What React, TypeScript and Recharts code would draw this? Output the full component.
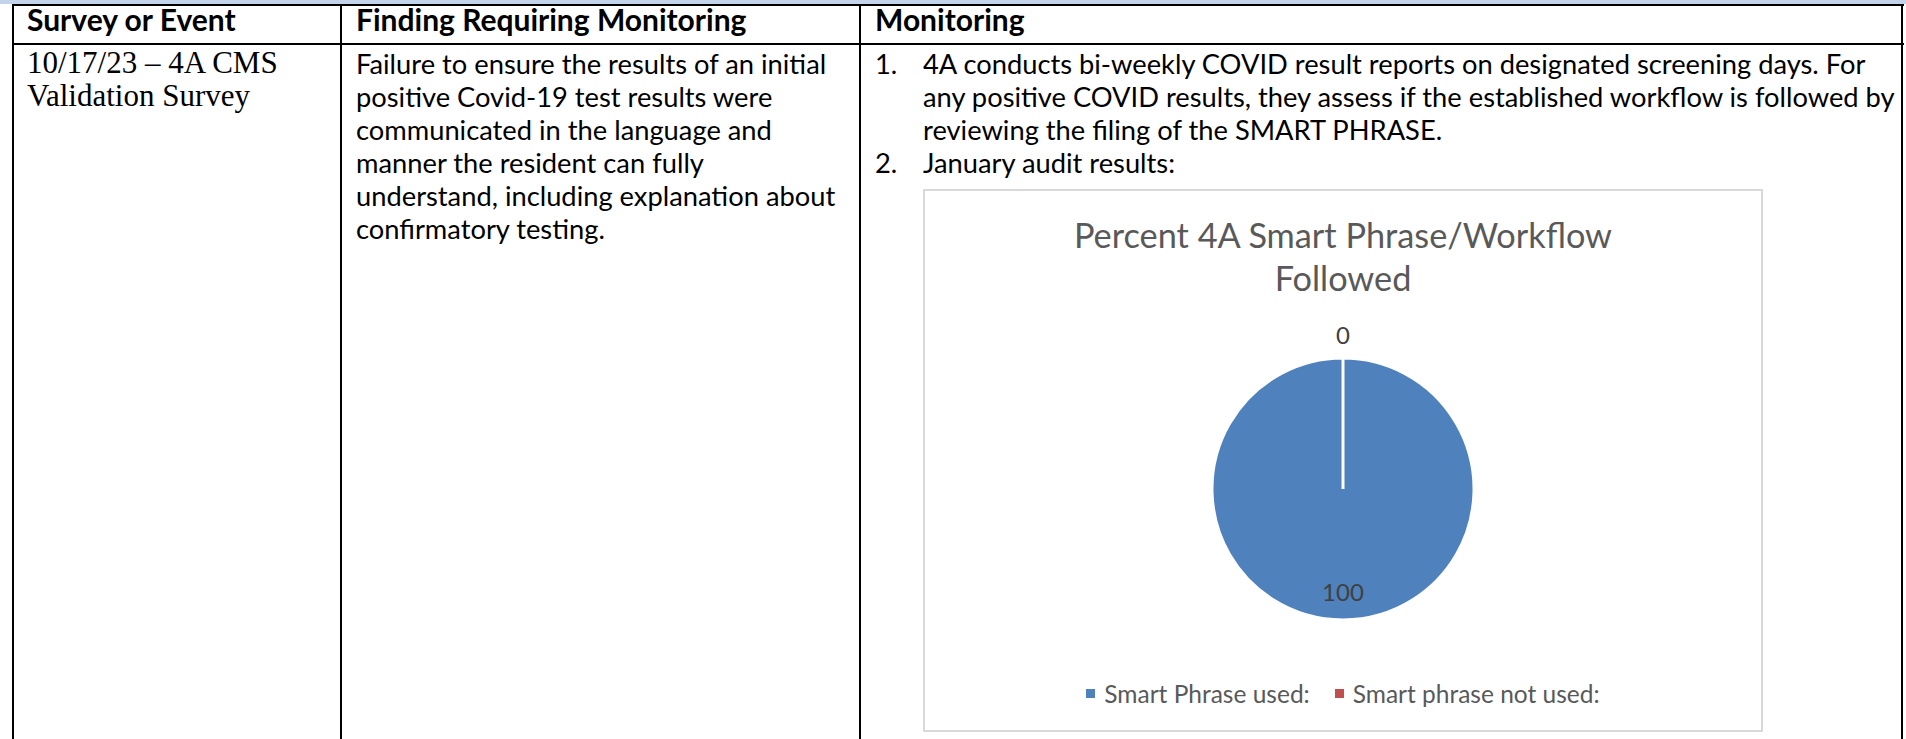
import { PieChart, Pie, Cell, Legend } from "recharts";

// ---- chart data ----
const categories = ["Smart Phrase used:", "Smart phrase not used:"];
const percents = [100, 0];
const sliceColors = ["#4F81BD", "#C0504D"];
const chartTitle = ["Percent 4A Smart Phrase/Workflow", "Followed"];

// ---- table text ----
const headers = ["Survey or Event", "Finding Requiring Monitoring", "Monitoring"];
const eventLines = ["10/17/23 – 4A CMS", "Validation Survey"];
const findingLines = [
  "Failure to ensure the results of an initial",
  "positive Covid-19 test results were",
  "communicated in the language and",
  "manner the resident can fully",
  "understand, including explanation about",
  "confirmatory testing.",
];
const monitoringItems = [
  {
    num: "1.",
    lines: [
      "4A conducts bi-weekly COVID result reports on designated screening days. For",
      "any positive COVID results, they assess if the established workflow is followed by",
      "reviewing the filing of the SMART PHRASE.",
    ],
  },
  { num: "2.", lines: ["January audit results:"] },
];

const pieData = categories.map((name, i) => ({ name, value: percents[i] }));

const FONT = "Lato, 'Open Sans', sans-serif";
const LINE_H = 33.1;
const BODY_TOP = 47;

type LabelProps = {
  cx?: number;
  cy?: number;
  midAngle?: number;
  outerRadius?: number;
  value?: number;
};

function SliceLabel({ cx = 0, cy = 0, midAngle = 0, outerRadius = 0, value = 0 }: LabelProps) {
  const RAD = Math.PI / 180;
  // big slices get the label inside, empty ones sit just outside the rim
  const r = value > 0 ? outerRadius * 0.78 : outerRadius + 24;
  const x = cx + r * Math.cos(-midAngle * RAD);
  const y = cy + r * Math.sin(-midAngle * RAD);
  return (
    <text
      x={x}
      y={y}
      textAnchor="middle"
      dominantBaseline="central"
      fill="#404040"
      fontSize={24}
      fontFamily={FONT}
    >
      {value}
    </text>
  );
}

type LegendPayload = { value: string; color: string };

function ChartLegend({ payload }: { payload?: LegendPayload[] }) {
  return (
    <div
      style={{
        display: "flex",
        justifyContent: "center",
        gap: 25,
        fontFamily: FONT,
        fontSize: 24.5,
        color: "#595959",
      }}
    >
      {(payload ?? []).map((p) => (
        <div key={p.value} style={{ display: "flex", alignItems: "center", gap: 9 }}>
          <div style={{ width: 9, height: 9, background: p.color }} />
          <span>{p.value}</span>
        </div>
      ))}
    </div>
  );
}

function Line({ x, y, w, h }: { x: number; y: number; w: number; h: number }) {
  return (
    <div style={{ position: "absolute", left: x, top: y, width: w, height: h, background: "#000" }} />
  );
}

function TextBlock({
  x,
  y,
  lines,
  style,
}: {
  x: number;
  y: number;
  lines: string[];
  style?: React.CSSProperties;
}) {
  return (
    <div
      style={{
        position: "absolute",
        left: x,
        top: y,
        lineHeight: `${LINE_H}px`,
        whiteSpace: "nowrap",
        fontFamily: FONT,
        fontSize: 27.3,
        color: "#000",
        ...style,
      }}
    >
      {lines.map((l) => (
        <div key={l}>{l}</div>
      ))}
    </div>
  );
}

const headStyle: React.CSSProperties = { fontWeight: 700, fontSize: 30 };

export default function App() {
  return (
    <div
      style={{
        position: "absolute",
        left: 0,
        top: 0,
        width: 1906,
        height: 739,
        background: "#fff",
        overflow: "hidden",
      }}
    >
      {/* thin blue strip above the table */}
      <div style={{ position: "absolute", left: 0, top: 0, width: 1906, height: 4, background: "#c3d3ea" }} />

      {/* table grid */}
      <Line x={12} y={4} w={1892} h={2} />
      <Line x={12} y={43} w={1892} h={2} />
      <Line x={12} y={4} w={2} h={735} />
      <Line x={340} y={4} w={2} h={735} />
      <Line x={859} y={4} w={2} h={735} />
      <Line x={1901} y={4} w={2} h={735} />

      {/* header row */}
      <TextBlock x={27} y={3} lines={[headers[0]]} style={headStyle} />
      <TextBlock x={356} y={3} lines={[headers[1]]} style={headStyle} />
      <TextBlock x={875} y={3} lines={[headers[2]]} style={headStyle} />

      {/* body */}
      <TextBlock
        x={27}
        y={BODY_TOP - 1}
        lines={eventLines}
        style={{ fontFamily: "'Liberation Serif', serif", fontSize: 31 }}
      />
      <TextBlock x={356} y={BODY_TOP} lines={findingLines} />

      <TextBlock x={875} y={BODY_TOP} lines={[monitoringItems[0].num]} />
      <TextBlock x={923} y={BODY_TOP} lines={monitoringItems[0].lines} />
      <TextBlock x={875} y={BODY_TOP + LINE_H * 3} lines={[monitoringItems[1].num]} />
      <TextBlock x={923} y={BODY_TOP + LINE_H * 3} lines={monitoringItems[1].lines} />

      {/* chart box */}
      <div
        style={{
          position: "absolute",
          left: 923,
          top: 189,
          width: 840,
          height: 543,
          boxSizing: "border-box",
          border: "2px solid #d9d9d9",
          background: "#fff",
        }}
      >
        <div
          style={{
            position: "absolute",
            left: 0,
            top: 22,
            width: 836,
            textAlign: "center",
            fontFamily: FONT,
            fontSize: 34.3,
            lineHeight: "43px",
            color: "#595959",
          }}
        >
          {chartTitle.map((t) => (
            <div key={t}>{t}</div>
          ))}
        </div>

        <PieChart width={836} height={539} margin={{ top: 0, right: 0, bottom: 0, left: 0 }}>
          <Pie
            data={pieData}
            dataKey="value"
            nameKey="name"
            cx="50%"
            cy={298}
            outerRadius={131}
            startAngle={90}
            endAngle={-270}
            stroke="#fff"
            strokeWidth={3}
            label={<SliceLabel />}
            labelLine={false}
            isAnimationActive={false}
          >
            {pieData.map((d, i) => (
              <Cell key={d.name} fill={sliceColors[i]} />
            ))}
          </Pie>
          <Legend
            verticalAlign="bottom"
            align="center"
            content={<ChartLegend />}
            wrapperStyle={{ bottom: 22 }}
          />
        </PieChart>
      </div>
    </div>
  );
}
